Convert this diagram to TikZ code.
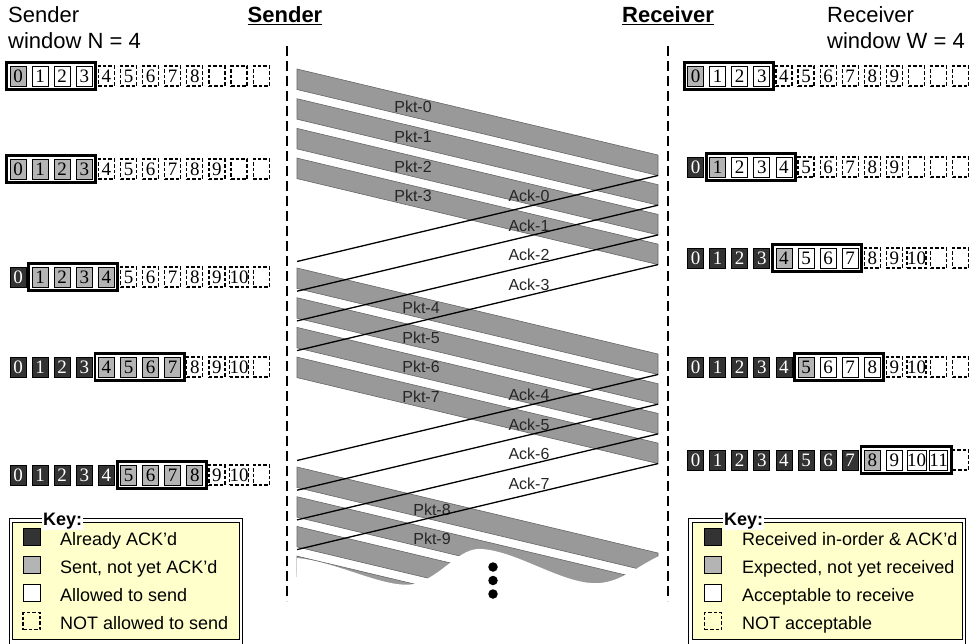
\documentclass[tikz,border=0pt]{standalone}
\usepackage{fontspec}
\setmainfont{Liberation Sans}
\newfontfamily\cellfont{Liberation Serif}
\definecolor{ackedgray}{HTML}{333333}
\definecolor{sentgray}{HTML}{B4B4B4}
\definecolor{bandgray}{HTML}{999999}
\definecolor{keyyellow}{HTML}{FFFFCC}
\newcommand{\cellpitch}{22.1}
\newcommand{\bandslope}{0.2382}
\newcommand{\cellrow}[8]{%
    \pgfmathtruncatemacro\lastcell{#8-1}
    \foreach \i in {0,...,\lastcell}{
        \pgfmathtruncatemacro\kind{(\i>=#4)+(\i>=#4+#5)+(\i>=#4+#5+#6)}
        \ifnum\i>#7\relax\def\ctext{}\else\let\ctext\i\fi
        \node[cell, cellkind=\kind] (#1-\i) at ({#2+\cellpitch*\i},#3) {\ctext};
    }
    \pgfmathtruncatemacro\wfirst{#4}
    \pgfmathtruncatemacro\wlast{#4+#5+#6-1}
    \draw[winbox] ([xshift=-3pt,yshift=3pt]#1-\wfirst.north west) rectangle ([xshift=3pt,yshift=-3pt]#1-\wlast.south east);
}
\tikzset{
    cell/.style={draw, line width=0.8pt, minimum width=16pt, minimum height=20pt, inner sep=0pt, font=\cellfont\fontsize{19}{19}\selectfont},
    donecell/.style={fill=ackedgray, text=white},
    sentcell/.style={fill=sentgray},
    freecell/.style={fill=white},
    closedcell/.style={line width=1.2pt, dash pattern=on 3.5pt off 2pt},
    cellkind/.code={\ifcase#1\relax\tikzset{donecell}\or\tikzset{sentcell}\or\tikzset{freecell}\else\tikzset{closedcell}\fi},
    winbox/.style={draw, line width=2.8pt},
    band/.style={fill=bandgray, draw=black!60, line width=0.6pt},
    ackline/.style={draw=black, line width=1.3pt},
    msglabel/.style={inner sep=0pt, text=black!85, font=\fontsize{16}{18}\selectfont},
    timeline/.style={draw, line width=2pt, dash pattern=on 10pt off 5pt},
    heading/.style={inner sep=0pt, anchor=base, font=\bfseries\fontsize{22}{26}\selectfont},
    wintitle/.style={inner sep=0pt, align=left, anchor=north west, font=\fontsize{22}{26.5}\selectfont},
    keyframe/.style={draw, line width=0.9pt},
    keytitle/.style={fill=white, inner sep=1pt, anchor=base west, font=\bfseries\fontsize{18}{20}\selectfont},
    keytext/.style={inner sep=0pt, anchor=base west, font=\fontsize{18}{20}\selectfont},
    keyswatch/.style={draw, line width=0.8pt, minimum size=17pt, inner sep=0pt},
    dot/.style={circle, fill=black, minimum size=9.5pt, inner sep=0pt}
}
\begin{document}
\begin{tikzpicture}[x=1pt, y=-1pt]
                \useasboundingbox (0,0) rectangle (976,643);

                \node[heading] (sendhead) at (285,22) {Sender};
                \node[heading] (recvhead) at (668,22) {Receiver};
                \draw[line width=1.5pt] ([yshift=-2.5pt]sendhead.base west) -- ([yshift=-2.5pt]sendhead.base east);
                \draw[line width=1.5pt] ([yshift=-2.5pt]recvhead.base west) -- ([yshift=-2.5pt]recvhead.base east);
                \node[wintitle] (sendwin) at (8,6) {Sender\\window N = 4};
                \node[wintitle] (recvwin) at (827,6) {Receiver\\window W = 4};

                \coordinate (sendtop) at (287,46);
                \coordinate (sendbot) at (287,601);
                \coordinate (recvtop) at (668,46);
                \coordinate (recvbot) at (668,601);
                \draw[timeline] (sendtop) -- (sendbot);
                \draw[timeline] (recvtop) -- (recvbot);

                \cellrow{sa}{18}{76}{0}{1}{3}{8}{12}
                \cellrow{sb}{18}{169}{0}{4}{0}{9}{12}
                \cellrow{sc}{18}{277}{1}{4}{0}{10}{12}
                \cellrow{sd}{18}{367}{4}{4}{0}{10}{12}
                \cellrow{se}{18}{475}{5}{4}{0}{10}{12}

                \cellrow{ra}{695.5}{76}{0}{1}{3}{9}{13}
                \cellrow{rb}{695.5}{167}{1}{1}{3}{9}{13}
                \cellrow{rc}{695.5}{258}{4}{1}{3}{10}{13}
                \cellrow{rd}{695.5}{367}{5}{1}{3}{10}{13}
                \cellrow{re}{695.5}{460}{8}{1}{3}{11}{13}

                \foreach \g in {0,1,2}{
                    \foreach \j in {0,...,3}{
                        \pgfmathsetmacro\ytop{69+29.7*\j+199*\g}
                        \draw[band] (297,\ytop) -- (658,\ytop+86) -- (658,\ytop+106.5) -- (297,\ytop+20.5) -- cycle;
                    }
                }
                \fill[white] (297,558) .. controls (340,562) and (390,592) .. (418,583)
                    .. controls (445,573) and (460,547) .. (482,549)
                    .. controls (520,552) and (565,586) .. (600,583)
                    .. controls (622,581) and (638,566) .. (659,556)
                    -- (660,675) -- (295,675) -- cycle;

                \foreach \n/\px in {0/413,1/413,2/413,3/413,4/421,5/421,6/421,7/421,8/432,9/432}{
                    \pgfmathsetmacro\py{69+29.7*mod(\n,4)+199*int(\n/4)+(\px-297)*\bandslope+10.25}
                    \node[msglabel] (pkt\n) at (\px,\py) {Pkt-\n};
                }

                \foreach \n in {0,...,7}{
                    \pgfmathsetmacro\ay{175.5+29.7*mod(\n,4)+199*int(\n/4)}
                    \coordinate (ackr\n) at (658,\ay);
                    \coordinate (ackl\n) at (297,\ay+86);
                    \draw[ackline] (ackr\n) -- (ackl\n);
                    \node[msglabel] (ack\n) at (529,\ay+20.2) {Ack-\n};
                }

                \node[dot] (dot1) at (493,567) {};
                \node[dot] (dot2) at (493,580.5) {};
                \node[dot] (dot3) at (493,594) {};

                \draw[keyframe] (9,518) rectangle (242,652);
                \draw[keyframe, fill=keyyellow] (12,522) rectangle (239,639);
                \node[keytitle] (sendkey) at (42,525) {Key:};
                \foreach \k/\txt in {0/Already ACK'd, 1/{Sent, not yet ACK'd}, 2/Allowed to send, 3/NOT allowed to send}{
                    \node[keyswatch, cellkind=\k] (sks\k) at (31.5,537+28*\k) {};
                    \node[keytext] (skt\k) at (60,545.5+28*\k) {\txt};
                }

                \draw[keyframe] (688,518) rectangle (965,652);
                \draw[keyframe, fill=keyyellow] (692,522) rectangle (962,639);
                \node[keytitle] (recvkey) at (723,525) {Key:};
                \foreach \k/\txt in {0/Received in-order \& ACK'd, 1/{Expected, not yet received}, 2/Acceptable to receive, 3/NOT acceptable}{
                    \node[keyswatch, cellkind=\k] (rks\k) at (713,537+28*\k) {};
                    \node[keytext] (rkt\k) at (742,545.5+28*\k) {\txt};
                }
\end{tikzpicture}
\end{document}
